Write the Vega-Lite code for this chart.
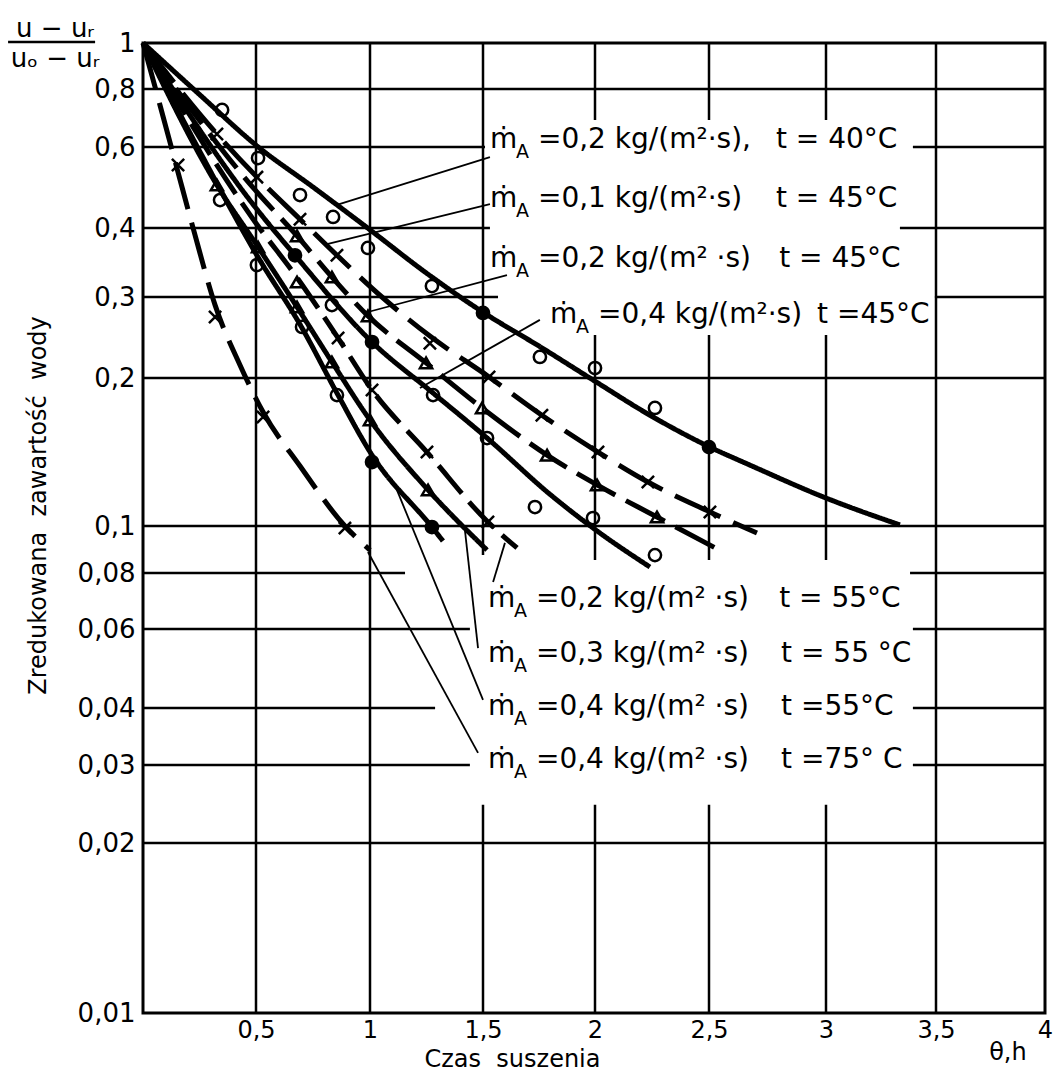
{
  "$schema": "https://vega.github.io/schema/vega-lite/v6.json",
  "width": 902,
  "height": 970,
  "autosize": {"type": "none"},
  "padding": {"left": 143, "top": 43, "right": 8, "bottom": 61},
  "background": "white",
  "config": {
    "view": {"stroke": "black", "strokeWidth": 3},
    "font": "DejaVu Sans",
    "axis": {"labelFont": "DejaVu Sans", "titleFont": "DejaVu Sans", "labelColor": "black", "titleColor": "black", "titleFontWeight": "normal", "grid": false, "ticks": false, "domain": false}
  },
  "datasets": {
    "hgrid": [
      {"y": 0.8, "x": 0, "x2": 4},
      {"y": 0.6, "x": 0, "x2": 1.509}, {"y": 0.6, "x": 3.395, "x2": 4},
      {"y": 0.4, "x": 0, "x2": 1.531}, {"y": 0.4, "x": 3.336, "x2": 4},
      {"y": 0.3, "x": 0, "x2": 1.567}, {"y": 0.3, "x": 3.495, "x2": 4},
      {"y": 0.2, "x": 0, "x2": 4},
      {"y": 0.1, "x": 0, "x2": 4},
      {"y": 0.08, "x": 0, "x2": 1.155}, {"y": 0.08, "x": 3.382, "x2": 4},
      {"y": 0.06, "x": 0, "x2": 1.442}, {"y": 0.06, "x": 3.395, "x2": 4},
      {"y": 0.04, "x": 0, "x2": 1.288}, {"y": 0.04, "x": 3.395, "x2": 4},
      {"y": 0.03, "x": 0, "x2": 1.442}, {"y": 0.03, "x": 3.395, "x2": 4},
      {"y": 0.02, "x": 0, "x2": 4}
    ],
    "vgrid": [
      {"x": 0.5, "y": 0.01, "y2": 1},
      {"x": 1, "y": 0.01, "y2": 1},
      {"x": 3.5, "y": 0.01, "y2": 1},
      {"x": 1.5, "y": 0.0871, "y2": 1}, {"x": 1.5, "y": 0.01, "y2": 0.0244},
      {"x": 2, "y": 0.686, "y2": 1}, {"x": 2, "y": 0.0851, "y2": 0.248}, {"x": 2, "y": 0.01, "y2": 0.0244},
      {"x": 2.5, "y": 0.686, "y2": 1}, {"x": 2.5, "y": 0.0851, "y2": 0.248}, {"x": 2.5, "y": 0.01, "y2": 0.0244},
      {"x": 3, "y": 0.686, "y2": 1}, {"x": 3, "y": 0.0851, "y2": 0.248}, {"x": 3, "y": 0.01, "y2": 0.0244}
    ],
    "leaders": [
      {"x": 0.855, "y": 0.449, "x2": 1.531, "y2": 0.5706},
      {"x": 0.816, "y": 0.3742, "x2": 1.531, "y2": 0.451},
      {"x": 0.991, "y": 0.2783, "x2": 1.607, "y2": 0.3287},
      {"x": 1.221, "y": 0.1909, "x2": 1.754, "y2": 0.2675},
      {"x": 1.598, "y": 0.0923, "x2": 1.545, "y2": 0.0764},
      {"x": 1.42, "y": 0.0981, "x2": 1.478, "y2": 0.0544},
      {"x": 1.119, "y": 0.1184, "x2": 1.5, "y2": 0.0417},
      {"x": 0.991, "y": 0.0884, "x2": 1.478, "y2": 0.0319}
    ],
    "curves": [
      {"s": "c1", "x": 0, "y": 1}, {"s": "c1", "x": 0.248, "y": 0.78}, {"s": "c1", "x": 0.51, "y": 0.6}, {"s": "c1", "x": 0.75, "y": 0.491}, {"s": "c1", "x": 1.0, "y": 0.397}, {"s": "c1", "x": 1.243, "y": 0.333}, {"s": "c1", "x": 1.5, "y": 0.278}, {"s": "c1", "x": 1.754, "y": 0.234}, {"s": "c1", "x": 2.0, "y": 0.197}, {"s": "c1", "x": 2.241, "y": 0.168}, {"s": "c1", "x": 2.5, "y": 0.145}, {"s": "c1", "x": 2.675, "y": 0.133}, {"s": "c1", "x": 3.0, "y": 0.114}, {"s": "c1", "x": 3.336, "y": 0.1005},
      {"s": "c2", "x": 0, "y": 1}, {"s": "c2", "x": 0.327, "y": 0.64}, {"s": "c2", "x": 0.504, "y": 0.516}, {"s": "c2", "x": 0.693, "y": 0.418}, {"s": "c2", "x": 0.855, "y": 0.357}, {"s": "c2", "x": 1.058, "y": 0.2985}, {"s": "c2", "x": 1.265, "y": 0.2467}, {"s": "c2", "x": 1.527, "y": 0.201}, {"s": "c2", "x": 1.763, "y": 0.168}, {"s": "c2", "x": 2.013, "y": 0.1414}, {"s": "c2", "x": 2.232, "y": 0.1229}, {"s": "c2", "x": 2.504, "y": 0.1068}, {"s": "c2", "x": 2.705, "y": 0.0967},
      {"s": "c3", "x": 0, "y": 1}, {"s": "c3", "x": 0.496, "y": 0.484}, {"s": "c3", "x": 0.68, "y": 0.387}, {"s": "c3", "x": 0.833, "y": 0.326}, {"s": "c3", "x": 0.991, "y": 0.273}, {"s": "c3", "x": 1.248, "y": 0.2157}, {"s": "c3", "x": 1.496, "y": 0.1738}, {"s": "c3", "x": 1.786, "y": 0.1394}, {"s": "c3", "x": 2.009, "y": 0.1212}, {"s": "c3", "x": 2.272, "y": 0.1043}, {"s": "c3", "x": 2.56, "y": 0.0884},
      {"s": "c4", "x": 0, "y": 1}, {"s": "c4", "x": 0.496, "y": 0.4444}, {"s": "c4", "x": 0.671, "y": 0.357}, {"s": "c4", "x": 1.009, "y": 0.2394}, {"s": "c4", "x": 1.279, "y": 0.1864}, {"s": "c4", "x": 1.518, "y": 0.151}, {"s": "c4", "x": 1.799, "y": 0.116}, {"s": "c4", "x": 2.022, "y": 0.0967}, {"s": "c4", "x": 2.241, "y": 0.0823},
      {"s": "c5", "x": 0, "y": 1}, {"s": "c5", "x": 0.496, "y": 0.4123}, {"s": "c5", "x": 0.675, "y": 0.3274}, {"s": "c5", "x": 0.86, "y": 0.2443}, {"s": "c5", "x": 1.009, "y": 0.1891}, {"s": "c5", "x": 1.252, "y": 0.1414}, {"s": "c5", "x": 1.522, "y": 0.1019}, {"s": "c5", "x": 1.652, "y": 0.0901},
      {"s": "c6", "x": 0, "y": 1}, {"s": "c6", "x": 0.327, "y": 0.496}, {"s": "c6", "x": 0.509, "y": 0.3695}, {"s": "c6", "x": 0.68, "y": 0.2853}, {"s": "c6", "x": 0.833, "y": 0.2167}, {"s": "c6", "x": 1.0, "y": 0.1643}, {"s": "c6", "x": 1.257, "y": 0.1184}, {"s": "c6", "x": 1.518, "y": 0.0892},
      {"s": "c7", "x": 0, "y": 1}, {"s": "c7", "x": 0.248, "y": 0.591}, {"s": "c7", "x": 0.504, "y": 0.357}, {"s": "c7", "x": 0.702, "y": 0.2569}, {"s": "c7", "x": 0.855, "y": 0.1864}, {"s": "c7", "x": 1.009, "y": 0.1394}, {"s": "c7", "x": 1.274, "y": 0.0995}, {"s": "c7", "x": 1.323, "y": 0.0931},
      {"s": "c8", "x": 0, "y": 1}, {"s": "c8", "x": 0.075, "y": 0.739}, {"s": "c8", "x": 0.15, "y": 0.54}, {"s": "c8", "x": 0.23, "y": 0.3886}, {"s": "c8", "x": 0.319, "y": 0.288}, {"s": "c8", "x": 0.429, "y": 0.2135}, {"s": "c8", "x": 0.531, "y": 0.1705}, {"s": "c8", "x": 0.693, "y": 0.1324}, {"s": "c8", "x": 0.89, "y": 0.1}, {"s": "c8", "x": 1.0, "y": 0.0892}
    ],
    "markers": [
      {"m": "circle", "x": 0.35, "y": 0.721}, {"m": "circle", "x": 0.509, "y": 0.5677}, {"m": "circle", "x": 0.693, "y": 0.4718}, {"m": "circle", "x": 0.838, "y": 0.4227}, {"m": "circle", "x": 0.991, "y": 0.368}, {"m": "circle", "x": 1.274, "y": 0.314}, {"m": "filled", "x": 1.5, "y": 0.277}, {"m": "circle", "x": 1.754, "y": 0.2222}, {"m": "circle", "x": 2.0, "y": 0.2102}, {"m": "circle", "x": 2.263, "y": 0.1738}, {"m": "filled", "x": 2.5, "y": 0.1447},
      {"m": "cross", "x": 0.327, "y": 0.64}, {"m": "cross", "x": 0.504, "y": 0.516}, {"m": "cross", "x": 0.693, "y": 0.418}, {"m": "cross", "x": 0.855, "y": 0.357}, {"m": "cross", "x": 1.265, "y": 0.238}, {"m": "cross", "x": 1.527, "y": 0.201}, {"m": "cross", "x": 1.763, "y": 0.168}, {"m": "cross", "x": 2.013, "y": 0.1414}, {"m": "cross", "x": 2.232, "y": 0.1229}, {"m": "cross", "x": 2.504, "y": 0.1068},
      {"m": "triangle", "x": 0.68, "y": 0.387}, {"m": "triangle", "x": 0.833, "y": 0.326}, {"m": "triangle", "x": 0.991, "y": 0.273}, {"m": "triangle", "x": 1.248, "y": 0.2157}, {"m": "triangle", "x": 1.496, "y": 0.1738}, {"m": "triangle", "x": 1.786, "y": 0.1394}, {"m": "triangle", "x": 2.009, "y": 0.1212}, {"m": "triangle", "x": 2.272, "y": 0.1043},
      {"m": "filled", "x": 0.671, "y": 0.357}, {"m": "filled", "x": 1.009, "y": 0.2394}, {"m": "circle", "x": 1.279, "y": 0.1846}, {"m": "circle", "x": 1.518, "y": 0.151}, {"m": "circle", "x": 1.732, "y": 0.1093}, {"m": "circle", "x": 1.991, "y": 0.1038}, {"m": "circle", "x": 2.263, "y": 0.0871},
      {"m": "cross", "x": 0.86, "y": 0.2443}, {"m": "cross", "x": 1.009, "y": 0.1891}, {"m": "cross", "x": 1.252, "y": 0.1414}, {"m": "cross", "x": 1.522, "y": 0.1019},
      {"m": "triangle", "x": 0.327, "y": 0.496}, {"m": "triangle", "x": 0.509, "y": 0.3695}, {"m": "triangle", "x": 0.68, "y": 0.2853}, {"m": "triangle", "x": 0.833, "y": 0.2167}, {"m": "triangle", "x": 1.0, "y": 0.1643}, {"m": "triangle", "x": 1.257, "y": 0.1184},
      {"m": "circle", "x": 0.341, "y": 0.46}, {"m": "circle", "x": 0.504, "y": 0.3428}, {"m": "circle", "x": 0.702, "y": 0.2582}, {"m": "circle", "x": 0.855, "y": 0.1846}, {"m": "filled", "x": 1.009, "y": 0.1349}, {"m": "filled", "x": 1.274, "y": 0.0995},
      {"m": "cross", "x": 0.155, "y": 0.548}, {"m": "cross", "x": 0.319, "y": 0.2714}, {"m": "cross", "x": 0.531, "y": 0.1666}, {"m": "cross", "x": 0.89, "y": 0.099},
      {"m": "circle", "x": 0.833, "y": 0.2882}, {"m": "triangle", "x": 0.68, "y": 0.3194}
    ],
    "labels": [
      {"x": 1.531, "y": 0.597, "tx": 2.786, "q": "=0,2 kg/(m²·s),", "t": "t = 40°C"},
      {"x": 1.531, "y": 0.4444, "tx": 2.786, "q": "=0,1 kg/(m²·s)", "t": "t = 45°C"},
      {"x": 1.531, "y": 0.34, "tx": 2.8, "q": "=0,2 kg/(m² ·s)", "t": "t = 45°C"},
      {"x": 1.799, "y": 0.2634, "tx": 2.962, "q": "=0,4 kg/(m²·s)", "t": "t =45°C"},
      {"x": 1.522, "y": 0.0672, "tx": 2.8, "q": "=0,2 kg/(m² ·s)", "t": "t = 55°C"},
      {"x": 1.522, "y": 0.0507, "tx": 2.808, "q": "=0,3 kg/(m² ·s)", "t": "t = 55 °C"},
      {"x": 1.522, "y": 0.0386, "tx": 2.808, "q": "=0,4 kg/(m² ·s)", "t": "t =55°C"},
      {"x": 1.522, "y": 0.02954, "tx": 2.808, "q": "=0,4 kg/(m² ·s)", "t": "t =75° C"}
    ],
    "extra": [
      {"x": -0.389, "y": 1, "num": "u − uᵣ", "den": "uₒ − uᵣ", "bx": -0.597, "bx2": -0.212, "by": 1.005, "th": "θ,h", "thx": 3.83, "thy": 0.01}
    ]
  },
  "layer": [
    {
      "data": {"name": "hgrid"},
      "mark": {"type": "rule", "color": "black", "strokeWidth": 2.5},
      "encoding": {
        "y": {"field": "y", "type": "quantitative",
          "scale": {"type": "log", "domain": [1, 0.8, 0.6, 0.4, 0.3, 0.2, 0.1, 0.08, 0.06, 0.04, 0.03, 0.02, 0.01], "range": [0, 46, 104, 185, 254, 335, 483, 530, 586, 665, 722, 800, 970], "nice": false},
          "axis": {"values": [1, 0.8, 0.6, 0.4, 0.3, 0.2, 0.1, 0.08, 0.06, 0.04, 0.03, 0.02, 0.01], "labelExpr": "replace(format(datum.value, '~g'), '.', ',')", "labelFontSize": 26, "labelPadding": 8, "labelOverlap": false, "labelFlush": false, "labelBaseline": "middle",
            "title": "Zredukowana\u00a0 zawartość\u00a0 wody", "titleFontSize": 24, "titleAngle": 270, "titleX": -105, "titleY": 462, "titleAlign": "center", "titleBaseline": "middle"}},
        "x": {"field": "x", "type": "quantitative",
          "scale": {"domain": [0, 0.5, 1, 1.5, 2, 2.5, 3, 3.5, 4], "range": [0, 113, 227, 340, 452, 566, 683, 793, 902], "nice": false, "zero": false},
          "axis": {"values": [0.5, 1, 1.5, 2, 2.5, 3, 3.5, 4], "labelExpr": "replace(format(datum.value, '~g'), '.', ',')", "labelFontSize": 24, "labelPadding": 5, "labelOverlap": false, "labelFlush": false,
            "title": "Czas\u00a0 suszenia", "titleFontSize": 24, "titleX": 369, "titleY": 46, "titleBaseline": "middle", "titleAlign": "center"}},
        "x2": {"field": "x2"}
      }
    },
    {
      "data": {"name": "vgrid"},
      "mark": {"type": "rule", "color": "black", "strokeWidth": 2.5},
      "encoding": {
        "x": {"field": "x", "type": "quantitative"},
        "y": {"field": "y", "type": "quantitative"},
        "y2": {"field": "y2"}
      }
    },
    {
      "data": {"name": "leaders"},
      "mark": {"type": "rule", "color": "black", "strokeWidth": 1.8},
      "encoding": {
        "x": {"field": "x", "type": "quantitative"},
        "y": {"field": "y", "type": "quantitative"},
        "x2": {"field": "x2"},
        "y2": {"field": "y2"}
      }
    },
    {
      "data": {"name": "curves"},
      "mark": {"type": "line", "interpolate": "monotone", "strokeWidth": 5, "color": "black", "strokeCap": "butt"},
      "encoding": {
        "x": {"field": "x", "type": "quantitative"},
        "y": {"field": "y", "type": "quantitative"},
        "detail": {"field": "s"},
        "strokeDash": {"field": "s", "type": "nominal", "legend": null,
          "scale": {"domain": ["c1", "c2", "c3", "c4", "c5", "c6", "c7", "c8"], "range": [[1, 0], [50, 14], [44, 12], [1, 0], [36, 11], [1, 0], [1, 0], [48, 14]]}}
      }
    },
    {
      "data": {"name": "markers"},
      "mark": {"type": "point", "filled": true, "stroke": "black", "strokeWidth": 2.5, "size": 150, "opacity": 1},
      "encoding": {
        "x": {"field": "x", "type": "quantitative"},
        "y": {"field": "y", "type": "quantitative"},
        "shape": {"field": "m", "type": "nominal", "legend": null,
          "scale": {"domain": ["circle", "filled", "cross", "triangle"], "range": ["circle", "circle", "M-1,-1L1,1M-1,1L1,-1", "triangle-up"]}},
        "fill": {"field": "m", "type": "nominal", "legend": null,
          "scale": {"domain": ["circle", "filled", "cross", "triangle"], "range": ["transparent", "black", "transparent", "transparent"]}}
      }
    },
    {
      "data": {"name": "labels"},
      "mark": {"type": "text", "text": "ṁ", "align": "left", "baseline": "alphabetic", "fontSize": 28, "color": "black"},
      "encoding": {
        "x": {"field": "x", "type": "quantitative"},
        "y": {"field": "y", "type": "quantitative"}
      }
    },
    {
      "data": {"name": "labels"},
      "mark": {"type": "text", "text": "A", "align": "left", "baseline": "alphabetic", "fontSize": 19, "dx": 26, "dy": 10, "color": "black"},
      "encoding": {
        "x": {"field": "x", "type": "quantitative"},
        "y": {"field": "y", "type": "quantitative"}
      }
    },
    {
      "data": {"name": "labels"},
      "mark": {"type": "text", "align": "left", "baseline": "alphabetic", "fontSize": 28, "dx": 48, "color": "black"},
      "encoding": {
        "x": {"field": "x", "type": "quantitative"},
        "y": {"field": "y", "type": "quantitative"},
        "text": {"field": "q"}
      }
    },
    {
      "data": {"name": "labels"},
      "mark": {"type": "text", "align": "left", "baseline": "alphabetic", "fontSize": 28, "color": "black"},
      "encoding": {
        "x": {"field": "tx", "type": "quantitative"},
        "y": {"field": "y", "type": "quantitative"},
        "text": {"field": "t"}
      }
    },
    {
      "data": {"name": "extra"},
      "mark": {"type": "text", "align": "center", "baseline": "alphabetic", "fontSize": 26, "dy": -6, "color": "black"},
      "encoding": {
        "x": {"field": "x", "type": "quantitative"},
        "y": {"field": "y", "type": "quantitative"},
        "text": {"field": "num"}
      }
    },
    {
      "data": {"name": "extra"},
      "mark": {"type": "text", "align": "center", "baseline": "alphabetic", "fontSize": 26, "dy": 24, "color": "black"},
      "encoding": {
        "x": {"field": "x", "type": "quantitative"},
        "y": {"field": "y", "type": "quantitative"},
        "text": {"field": "den"}
      }
    },
    {
      "data": {"name": "extra"},
      "mark": {"type": "rule", "color": "black", "strokeWidth": 2.5},
      "encoding": {
        "x": {"field": "bx", "type": "quantitative"},
        "x2": {"field": "bx2"},
        "y": {"field": "by", "type": "quantitative"}
      }
    },
    {
      "data": {"name": "extra"},
      "mark": {"type": "text", "align": "center", "baseline": "middle", "fontSize": 24, "dy": 40, "color": "black"},
      "encoding": {
        "x": {"field": "thx", "type": "quantitative"},
        "y": {"field": "thy", "type": "quantitative"},
        "text": {"field": "th"}
      }
    }
  ]
}
